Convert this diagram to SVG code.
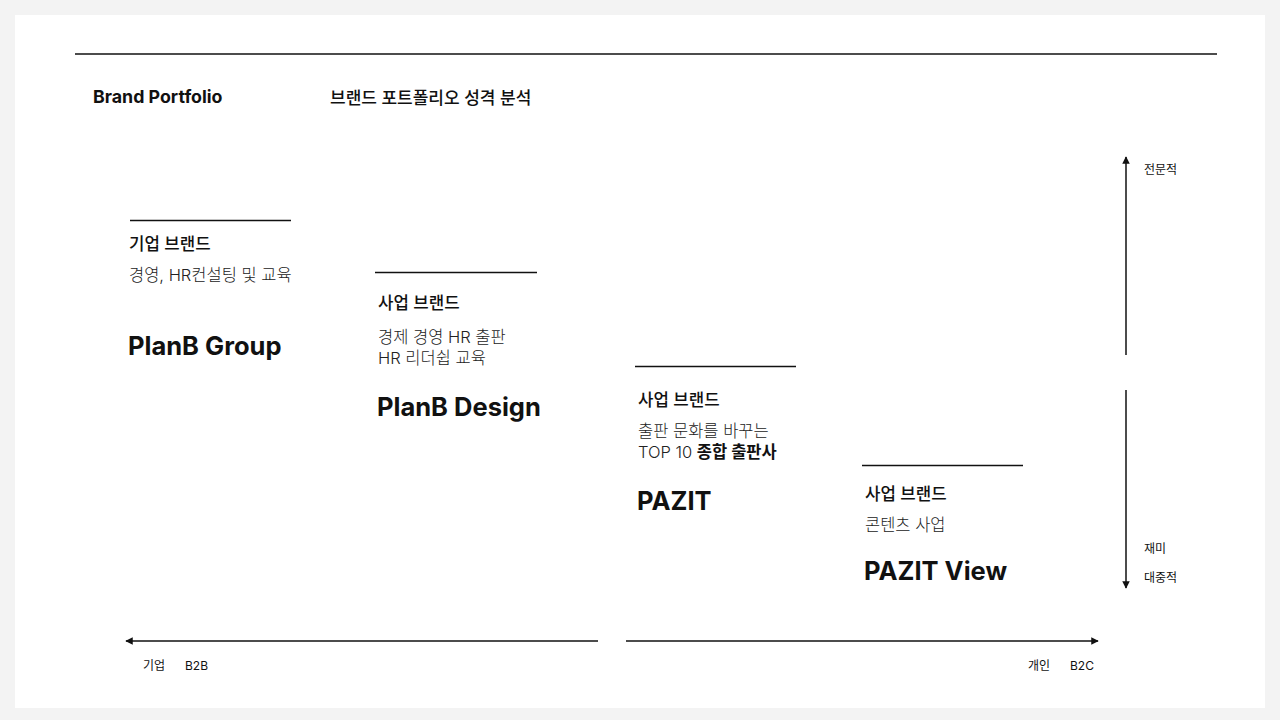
<svg xmlns="http://www.w3.org/2000/svg" width="1280" height="720" viewBox="0 0 1280 720">
<style>
text{font-family:Inter,"Noto Sans CJK KR","Noto Sans",sans-serif;fill:#111}
.hd{font-size:16.8px;font-weight:500}
.ds{font-size:16.5px;font-weight:300;fill:#222}
.nm{font-size:25.5px;font-weight:700}
.sm{font-size:12px;font-weight:400}
.rule{stroke:#111;stroke-width:1.5}
.ax{stroke:#111;stroke-width:1.5;fill:none}
</style>
<defs>
<marker id="ah" viewBox="0 0 10 10" refX="9" refY="5" markerWidth="5" markerHeight="5" orient="auto" markerUnits="strokeWidth"><path d="M0,0L10,5L0,10z" fill="#111"/></marker>
</defs>
<rect width="1280" height="720" fill="#f3f3f3"/>
<rect x="15" y="15" width="1250" height="693" fill="#fff"/>
<line x1="75" y1="54" x2="1217" y2="54" class="rule"/>
<g id="title">
<text x="93" y="103" style="font-size:17.8px;font-weight:700">Brand Portfolio</text>
<text x="330" y="104" style="font-size:17px;font-weight:500">브랜드 포트폴리오 성격 분석</text>
</g>
<g id="node-planb-group">
<line x1="130" y1="220.5" x2="291" y2="220.5" class="rule"/>
<text x="129" y="250" class="hd">기업 브랜드</text>
<text x="129" y="281" class="ds">경영, HR컨설팅 및 교육</text>
<text x="128" y="355" class="nm">PlanB Group</text>
</g>
<g id="node-planb-design">
<line x1="375" y1="272.5" x2="537" y2="272.5" class="rule"/>
<text x="378" y="309" class="hd">사업 브랜드</text>
<text x="378" y="343" class="ds">경제 경영 HR 출판</text>
<text x="378" y="364" class="ds">HR 리더쉽 교육</text>
<text x="377" y="416" class="nm">PlanB Design</text>
</g>
<g id="node-pazit">
<line x1="635" y1="366.5" x2="796" y2="366.5" class="rule"/>
<text x="638" y="406" class="hd">사업 브랜드</text>
<text x="638" y="437" class="ds">출판 문화를 바꾸는</text>
<text x="638" y="458" class="ds">TOP 10 <tspan style="font-weight:700;fill:#111">종합 출판사</tspan></text>
<text x="637" y="510" class="nm">PAZIT</text>
</g>
<g id="node-pazit-view">
<line x1="862" y1="465.5" x2="1023" y2="465.5" class="rule"/>
<text x="865" y="500" class="hd">사업 브랜드</text>
<text x="865" y="531" class="ds">콘텐츠 사업</text>
<text x="864" y="580" class="nm">PAZIT View</text>
</g>
<g id="connectors">
<line x1="1126" y1="355" x2="1126" y2="157" class="ax" marker-end="url(#ah)"/>
<line x1="1126" y1="390" x2="1126" y2="588" class="ax" marker-end="url(#ah)"/>
<line x1="598" y1="641" x2="126" y2="641" class="ax" marker-end="url(#ah)"/>
<line x1="626" y1="641" x2="1098" y2="641" class="ax" marker-end="url(#ah)"/>
</g>
<g id="axis-labels">
<text x="1144" y="174" class="sm">전문적</text>
<text x="1144" y="553" class="sm">재미</text>
<text x="1144" y="582" class="sm">대중적</text>
<text x="143" y="670" class="sm">기업</text>
<text x="185" y="670" class="sm">B2B</text>
<text x="1028" y="670" class="sm">개인</text>
<text x="1070" y="670" class="sm">B2C</text>
</g>
</svg>
